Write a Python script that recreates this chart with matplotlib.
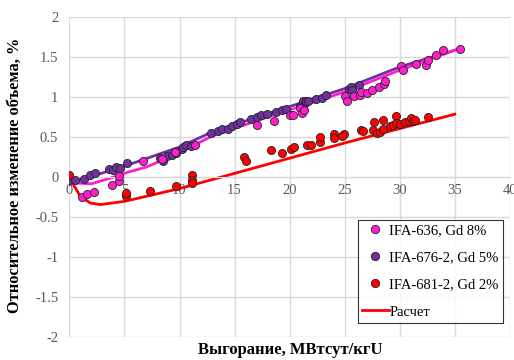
import matplotlib.pyplot as plt
from matplotlib.ticker import FuncFormatter
from matplotlib.lines import Line2D

plt.rcParams['font.family'] = ['Liberation Serif', 'DejaVu Serif']

# IFA-636, Gd 8%
x636 = [1.1, 1.6, 2.2, 3.9, 4.5, 4.5, 6.7, 8.4, 9.6, 11.4, 17.0, 18.6, 20.0, 20.3, 20.9, 21.1, 21.3,
        25.0, 25.2, 25.8, 26.4, 26.5, 27.0, 27.5, 28.1, 28.6, 28.7, 30.1, 30.3, 31.5, 32.4, 32.6,
        33.3, 33.9, 35.5]
y636 = [-0.25, -0.22, -0.19, -0.10, -0.05, 0.01, 0.20, 0.22, 0.31, 0.39, 0.65, 0.70, 0.77, 0.77, 0.86, 0.80, 0.83,
        1.01, 0.95, 1.01, 1.02, 1.06, 1.04, 1.08, 1.12, 1.16, 1.19, 1.38, 1.33, 1.41, 1.40, 1.46,
        1.52, 1.58, 1.60]

# IFA-676-2, Gd 5%
x676 = [-0.1, 0.5, 1.3, 1.9, 2.3, 3.6, 4.0, 4.2, 4.6, 5.2, 8.2, 8.5, 8.9, 9.3, 9.7, 10.2, 10.3, 10.6, 11.0,
        12.9, 13.5, 13.9, 14.4, 14.8, 15.2, 15.5, 16.5, 17.0, 17.4, 17.9, 18.8, 19.3, 19.7, 20.9, 21.2,
        21.4, 21.5, 21.7, 22.4, 22.9, 23.3, 25.4, 25.6, 25.7, 26.3]
y676 = [-0.06, -0.04, -0.03, 0.02, 0.05, 0.10, 0.08, 0.12, 0.11, 0.17, 0.23, 0.20, 0.26, 0.27, 0.29, 0.35, 0.37, 0.40, 0.38,
        0.55, 0.57, 0.59, 0.60, 0.63, 0.66, 0.68, 0.72, 0.74, 0.77, 0.78, 0.81, 0.83, 0.84, 0.88, 0.94,
        0.92, 0.95, 0.94, 0.97, 0.98, 1.02, 1.10, 1.12, 1.08, 1.15]

# IFA-681-2, Gd 2%
x681 = [0.0, 5.1, 5.1, 7.3, 9.7, 11.1, 11.1, 11.1, 15.9, 16.0, 18.3, 19.3, 20.1, 20.4, 21.6, 21.9, 22.8, 22.8,
        24.0, 24.0, 24.9, 24.8, 26.5, 26.7, 27.6, 27.7, 27.9, 28.2, 28.5, 28.5, 29.1, 29.4, 29.7, 29.7,
        30.0, 30.5, 30.8, 31.0, 31.2, 31.4, 32.6]
y681 = [0.02, -0.24, -0.20, -0.18, -0.12, 0.02, -0.04, -0.08, 0.25, 0.20, 0.33, 0.29, 0.35, 0.37, 0.39, 0.39, 0.43, 0.50,
        0.53, 0.48, 0.53, 0.51, 0.58, 0.57, 0.58, 0.68, 0.54, 0.56, 0.71, 0.59, 0.63, 0.65, 0.76, 0.67,
        0.66, 0.68, 0.70, 0.73, 0.70, 0.71, 0.75]

# calculated curves
xc636 = [0.5, 2.0, 3.7, 5.2, 7.0, 9.4, 10, 13, 16, 19, 22, 25, 30, 35]
yc636 = [-0.08, -0.09, -0.02, 0.05, 0.12, 0.26, 0.30, 0.51, 0.65, 0.79, 0.92, 1.06, 1.33, 1.58]
xc676 = [0, 0.5, 1, 5, 10, 13, 15, 19, 25, 30, 35]
yc676 = [-0.05, -0.04, -0.04, 0.13, 0.37, 0.56, 0.65, 0.83, 1.10, 1.37, 1.58]
xc681 = [0, 0.2, 1, 1.9, 2.8, 5, 10, 15, 20, 25, 30, 35]
yc681 = [0, -0.06, -0.25, -0.33, -0.35, -0.31, -0.15, 0.04, 0.23, 0.42, 0.60, 0.78]

c_mag = '#FF1DCE'
c_pur = '#7030A0'
c_red = '#FF0000'

fig = plt.figure(figsize=(5.14, 3.6), dpi=100)
ax = fig.add_axes([0.135, 0.065, 0.857, 0.889])

ax.plot(xc676, yc676, color=c_pur, lw=2, zorder=2)
ax.plot(xc636, yc636, color=c_mag, lw=2, zorder=2)
ax.plot(xc681, yc681, color=c_red, lw=2, zorder=2)

ms = 34
ax.scatter(x676, y676, s=ms, color=c_pur, edgecolors='#222222', linewidths=0.6, zorder=3)
ax.scatter(x636, y636, s=ms, color=c_mag, edgecolors='#222222', linewidths=0.6, zorder=3)
ax.scatter(x681, y681, s=ms, color=c_red, edgecolors='#222222', linewidths=0.6, zorder=3)

ax.set_xlim(0, 40)
ax.set_ylim(-2, 2)
ax.set_xticks(range(0, 41, 5))
ax.set_yticks([-2, -1.5, -1, -0.5, 0, 0.5, 1, 1.5, 2])
ax.yaxis.set_major_formatter(FuncFormatter(lambda v, p: '%g' % v))
ax.grid(True, color='#D9D9D9', lw=1)
ax.set_axisbelow(True)
for s in ['top', 'right', 'left']:
    ax.spines[s].set_visible(False)
ax.spines['bottom'].set_position(('data', 0))
ax.spines['bottom'].set_color('#D9D9D9')
ax.tick_params(length=0, labelsize=10.5, colors='#595959', pad=8)
ax.tick_params(axis='x', pad=5)

fig.text(0.029, 0.514, 'Относительное изменение объема, %', rotation=90, ha='center', va='center',
         fontsize=11.8, fontweight='bold')
fig.text(0.564, 0.028, 'Выгорание, МВтсут/кгU', ha='center', va='center', fontsize=12, fontweight='bold')

handles = [Line2D([], [], ls='none', marker='o', ms=6, mfc=c_mag, mec='#222222', mew=0.6),
           Line2D([], [], ls='none', marker='o', ms=6, mfc=c_pur, mec='#222222', mew=0.6),
           Line2D([], [], ls='none', marker='o', ms=6, mfc=c_red, mec='#222222', mew=0.6),
           Line2D([], [], color=c_red, lw=2)]
labels = ['IFA-636, Gd 8%', 'IFA-676-2, Gd 5%', 'IFA-681-2, Gd 2%', 'Расчет']
leg = ax.legend(handles, labels, loc='upper left', bbox_to_anchor=(0.655, 0.365), fontsize=10.5,
                frameon=True, fancybox=False, edgecolor='black', labelspacing=0.95,
                handlelength=1.8, handletextpad=0.05, borderpad=0.3, borderaxespad=0)
leg.get_frame().set_linewidth(0.8)

fig.savefig('out.png', dpi=100)
